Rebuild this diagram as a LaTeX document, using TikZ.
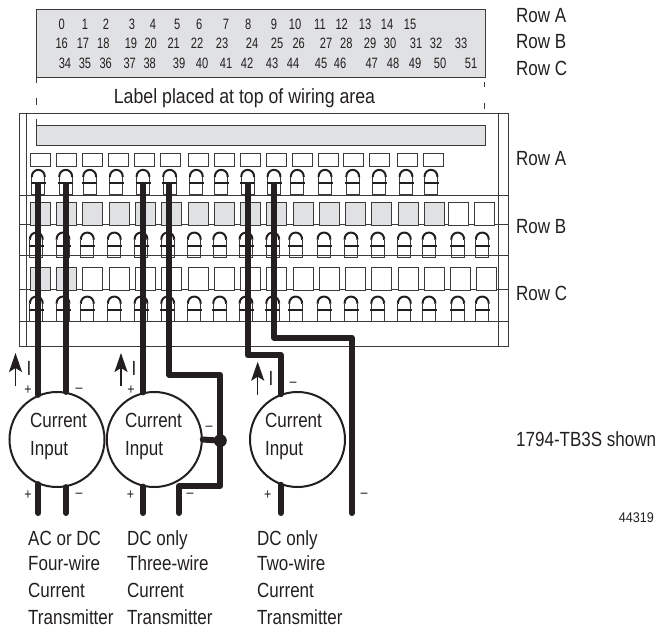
\documentclass[tikz,border=0pt]{standalone}
\usepackage{fontspec}
\setmainfont{Liberation Sans}[FakeStretch=0.83]
\newfontfamily\widefont{Liberation Sans}[FakeStretch=0.865]
\newfontfamily\numfont{Liberation Sans}[FakeStretch=0.74]
\newfontfamily\tagfont{Liberation Sans}[FakeStretch=0.9]
\usetikzlibrary{arrows.meta}
\definecolor{inkcol}{HTML}{231F20}
\definecolor{linecol}{HTML}{3C3A3B}
\definecolor{greycol}{HTML}{E0E1E3}
\tikzset{
    thin line/.style={draw=linecol,line width=1pt},
    txt/.style={anchor=base west,inner sep=0pt,text=inkcol,font=\fontsize{20.5}{24}\selectfont},
    num/.style={anchor=base,inner sep=0pt,text=inkcol,font=\numfont\fontsize{15}{18}\selectfont},
    sign/.style={inner sep=0pt,text=inkcol,font=\fontsize{15}{18}\selectfont},
    labelbox/.style={thin line,inner sep=0pt,anchor=north west,minimum width=19.5pt,minimum height=13pt},
    rowbox/.style={thin line,inner sep=0pt,anchor=north west,minimum width=20pt,minimum height=22.5pt},
    wire/.style={draw=inkcol,line width=6pt,line join=round,line cap=round},
    current/.style={circle,draw=inkcol,line width=2pt,fill=white,inner sep=0pt,minimum size=95pt},
    junction/.style={circle,fill=inkcol,inner sep=0pt,minimum size=13pt},
    flow/.style={draw=inkcol,line width=1.5pt,-{Stealth[length=19pt,width=13pt,inset=4pt]}},
    terminal/.pic={
        \draw[thin line] (-6.5,0) -- (-6.5,12) -- (6.5,12) -- (6.5,0);
        \draw[thin line] (-6.5,0) -- (-6.5,-6);
        \draw[thin line] (6.5,0) -- (6.5,-6);
        \draw[draw=inkcol,line width=2pt] (-6.5,-6) .. controls (-6.5,-15.5) and (6.5,-15.5) .. (6.5,-6);
        \draw[draw=inkcol,line width=2pt] (-7.5,0) -- (7.5,0);
    }
}
\begin{document}
\begin{tikzpicture}[x=1pt,y=-1pt]
    \useasboundingbox (0,0) rectangle (656,628);
    \draw[thin line,fill=greycol] (36,9.5) rectangle (485,78);
    \foreach \x/\n in {61.7/0,85/1,106/2,132/3,153/4,177.3/5,199.3/6,226/7,248.3/8,274/9,295/10,320/11,341.7/12,365/13,387/14,410/15}
        \node[num] (n\n) at (\x,29.3) {\n};
    \foreach \x/\n in {61.7/16,83/17,103.3/18,131/19,150.7/20,173.7/21,197/22,222/23,252/24,277/25,298.7/26,326/27,346.3/28,370/29,390/30,416/31,436/32,461/33}
        \node[num] (n\n) at (\x,48.7) {\n};
    \foreach \x/\n in {65/34,85/35,105.7/36,129.7/37,149.7/38,179/39,202/40,226/41,247/42,272/43,293/44,321/45,340/46,371.7/47,393/48,415/49,440/50,471/51}
        \node[num] (n\n) at (\x,68.3) {\n};
    \foreach \y/\t [count=\i] in {23/Row A,49/Row B,76/Row C,165.7/Row A,234/Row B,301/Row C}
        \node[txt] (row\i) at (516,\y) {\t};
    \node[txt,anchor=base,font=\widefont\fontsize{20.5}{24}\selectfont] (toplabel) at (244.5,104) {Label placed at top of wiring area};
    \draw[thin line] (36,78) -- (36,83);
    \draw[thin line] (36,98) -- (36,105);
    \draw[thin line] (36,119) -- (36,126);
    \draw[thin line] (484.5,82) -- (484.5,87);
    \draw[thin line] (484.5,103) -- (484.5,109);

    \draw[thin line] (19,114) rectangle (508,346);
    \draw[thin line] (26,114) -- (26,346);
    \draw[thin line] (498,114) -- (498,346);
    \foreach \y in {195.5,225,256,290,322}
        \draw[thin line] (19,\y) -- (508,\y);
    \draw[thin line,fill=greycol] (36,126) rectangle (485,145.5);

    \foreach \x [count=\i] in {30,56,82,108,134,160,188,214,240,266,292,318,343,369,397,423}
        \node[labelbox] (a\i) at (\x,153) {};
    \foreach \x/\c [count=\i] in {29.5/greycol,56/greycol,82/greycol,108.5/greycol,135/greycol,161/greycol,187.5/greycol,214/greycol,240/greycol,266/greycol,292.5/greycol,318.5/greycol,345/greycol,371/greycol,397.5/greycol,423.5/greycol,447.5/white,473.5/white}
        \node[rowbox,fill=\c] (b\i) at (\x,202.5) {};
    \foreach \x/\c [count=\i] in {29.5/greycol,56/greycol,82/white,108.5/white,135/white,161/white,187.5/white,214/white,240/white,266/white,292.5/white,318.5/white,345/white,371/white,397.5/white,423.5/white,450/white,476/white}
        \node[rowbox,fill=\c] (c\i) at (\x,267.5) {};
    \foreach \x in {38.3,65.7,89.7,116.3,143,169.7,196.3,221.3,247.7,274,297.3,325,352.7,379.3,406,431}
        \pic at (\x,183) {terminal};
    \foreach \x in {36.3,63,87.3,114.3,141,167.7,194.3,219.7,246,272.7,295.7,324,351,377.7,404.3,429,457.7,482.3} {
        \pic at (\x,245.7) {terminal};
        \pic at (\x,309.7) {terminal};
    }

    \node[current] (in1) at (57,439.5) {};
    \node[current] (in2) at (154.3,439.5) {};
    \node[current] (in3) at (297.5,439.5) {};
    \node[junction] (tee) at (220.3,440.7) {};
    \foreach \x/\i in {30/1,125/2,265/3} {
        \node[txt] (cur\i) at (\x,427.7) {Current};
        \node[txt] (inp\i) at (\x,455) {Input};
    }

    \coordinate (t1) at (38.3,185);
    \coordinate (t2) at (66,185);
    \coordinate (t3) at (143,185);
    \coordinate (t4) at (169.3,185);
    \coordinate (t5) at (247.7,185);
    \coordinate (t6) at (274,185);
    \coordinate (e1) at (38.3,513);
    \coordinate (e2) at (66,513);
    \coordinate (e3) at (143,513);
    \coordinate (e4) at (179,513);
    \coordinate (e5) at (280.7,513);
    \coordinate (e6) at (351.7,513);
    \coordinate (k1) at (220.3,375);
    \coordinate (k2) at (179,486);
    \coordinate (k3) at (280.7,355.3);
    \coordinate (k4) at (351.7,337.7);

    \draw[wire] (t1) -- (t1 |- in1.113);
    \draw[wire] (t1 |- in1.-113) -- (e1);
    \draw[wire] (t2) -- (t2 |- in1.79);
    \draw[wire] (t2 |- in1.-79) -- (e2);
    \draw[wire] (t3) -- (t3 |- in2.104);
    \draw[wire] (t3 |- in2.-104) -- (e3);
    \draw[wire] (t4) |- (k1) |- (k2) -- (e4);
    \draw[wire] (in2.east) -- (tee);
    \draw[wire] (t5) |- (k3) -- (k3 |- in3.111);
    \draw[wire] (k3 |- in3.-111) -- (e5);
    \draw[wire] (t6) |- (k4) -- (e6);

    \foreach \x/\y/\s [count=\i] in {28/390/+,79/390/--,28/495/+,79/495/--,131/390/+,130.5/495/+,209/428/--,190/495/--,293/384/--,267.7/495/+,364/495/--}
        \node[sign] (s\i) at (\x,\y) {\s};

    \coordinate (f1) at (15.5,386);
    \coordinate (g1) at (15.5,353);
    \coordinate (f2) at (121,386);
    \coordinate (g2) at (121,353);
    \coordinate (f3) at (257.7,395);
    \coordinate (g3) at (257.7,361.7);
    \draw[flow] (f1) -- (g1);
    \draw[flow] (f2) -- (g2);
    \draw[flow] (f3) -- (g3);
    \node[txt,anchor=center] (i1) at (29,368) {I};
    \node[txt,anchor=center] (i2) at (134,368) {I};
    \node[txt,anchor=center] (i3) at (271,378) {I};

    \foreach \x/\i/\a/\b in {28/1/AC or DC/Four-wire,127/2/DC only/Three-wire,257/3/DC only/Two-wire} {
        \node[txt] (top\i) at (\x,545) {\a};
        \node[txt] (sec\i) at (\x,570.7) {\b};
        \node[txt] (thr\i) at (\x,597.7) {Current};
        \node[txt] (fou\i) at (\x,624) {Transmitter};
    }
    \node[txt] (shown) at (516,446.7) {1794-TB3S shown};
    \node[anchor=base east,inner sep=0pt,text=inkcol,font=\tagfont\fontsize{14}{16}\selectfont] (tag) at (654,522.7) {44319};
\end{tikzpicture}
\end{document}
